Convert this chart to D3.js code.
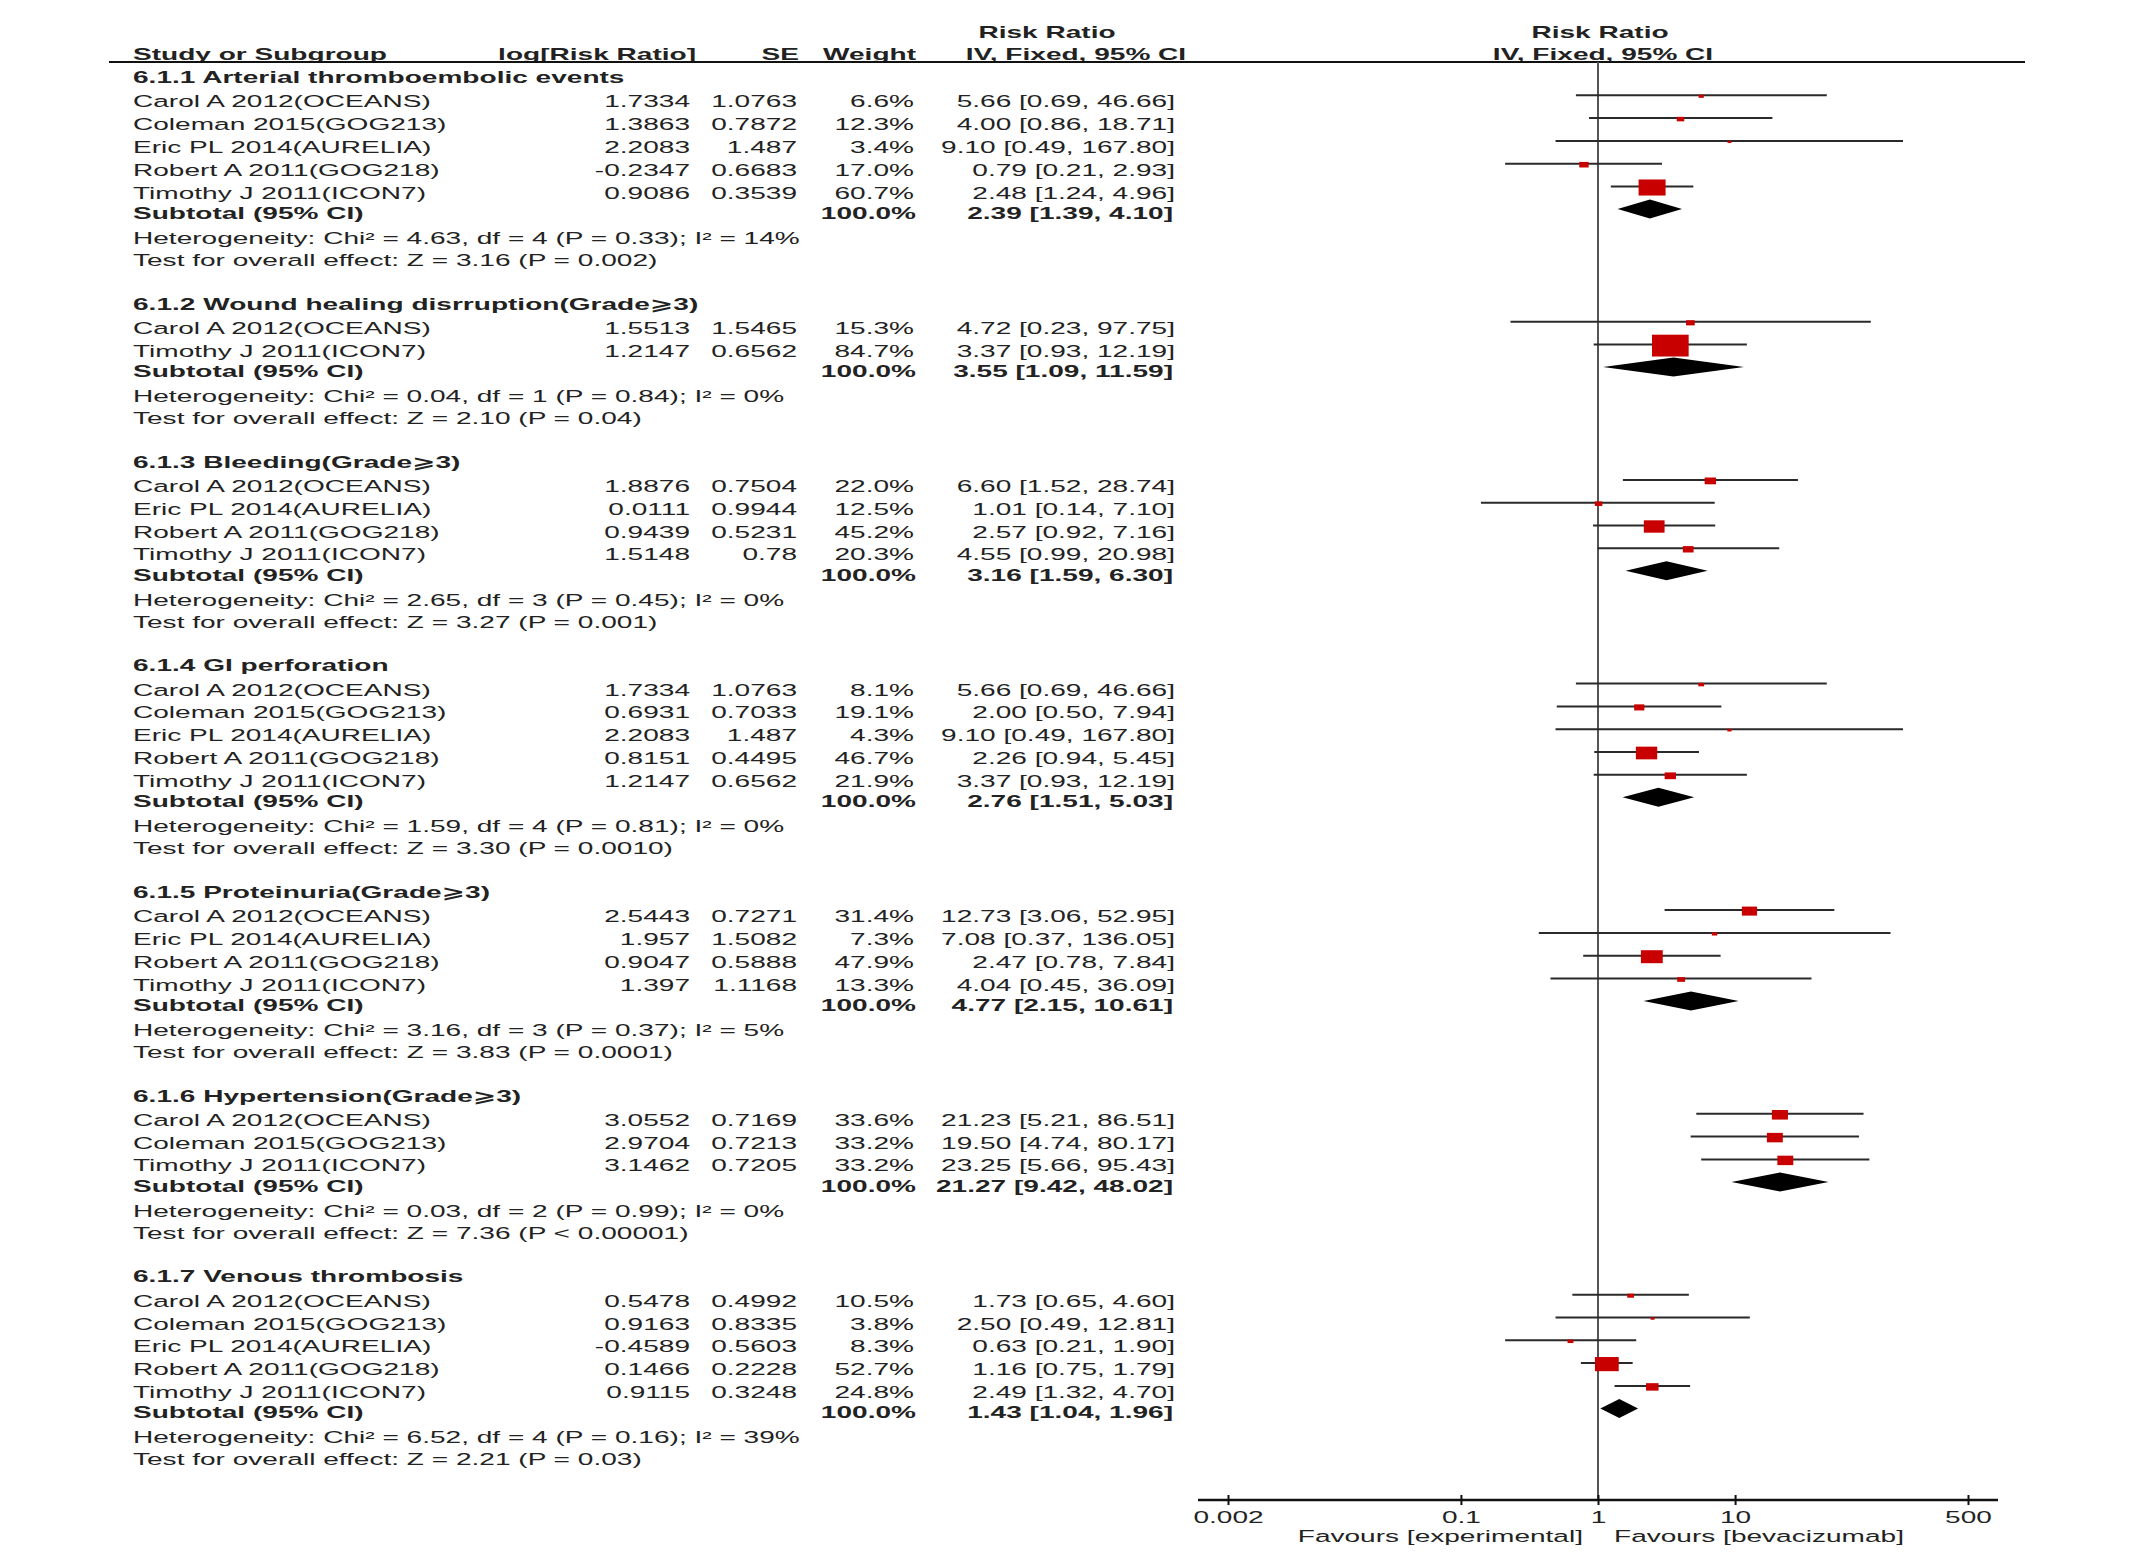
<!DOCTYPE html>
<html>
<head>
<meta charset="utf-8">
<script src="https://cdn.jsdelivr.net/npm/d3@7"></script>
<style>
body { margin: 0; background: #fff; }
text { font-family: "Liberation Sans", Arial, "DejaVu Sans", sans-serif; fill: #222; }
</style>
</head>
<body>
<div id="forest"></div>
<script>
var width = 2133;
var height = 1562;

// subgroup titles
var groupTitles = [
    "6.1.1 Arterial thromboembolic events",
    "6.1.2 Wound healing disrruption(Grade\u2a7e3)",
    "6.1.3 Bleeding(Grade\u2a7e3)",
    "6.1.4 GI perforation",
    "6.1.5 Proteinuria(Grade\u2a7e3)",
    "6.1.6 Hypertension(Grade\u2a7e3)",
    "6.1.7 Venous thrombosis"
];

var studyNames = [
    ["Carol A 2012(OCEANS)", "Coleman 2015(GOG213)", "Eric PL 2014(AURELIA)", "Robert A 2011(GOG218)", "Timothy J 2011(ICON7)"],
    ["Carol A 2012(OCEANS)", "Timothy J 2011(ICON7)"],
    ["Carol A 2012(OCEANS)", "Eric PL 2014(AURELIA)", "Robert A 2011(GOG218)", "Timothy J 2011(ICON7)"],
    ["Carol A 2012(OCEANS)", "Coleman 2015(GOG213)", "Eric PL 2014(AURELIA)", "Robert A 2011(GOG218)", "Timothy J 2011(ICON7)"],
    ["Carol A 2012(OCEANS)", "Eric PL 2014(AURELIA)", "Robert A 2011(GOG218)", "Timothy J 2011(ICON7)"],
    ["Carol A 2012(OCEANS)", "Coleman 2015(GOG213)", "Timothy J 2011(ICON7)"],
    ["Carol A 2012(OCEANS)", "Coleman 2015(GOG213)", "Eric PL 2014(AURELIA)", "Robert A 2011(GOG218)", "Timothy J 2011(ICON7)"]
];

var logRR = [
    [1.7334, 1.3863, 2.2083, -0.2347, 0.9086],
    [1.5513, 1.2147],
    [1.8876, 0.0111, 0.9439, 1.5148],
    [1.7334, 0.6931, 2.2083, 0.8151, 1.2147],
    [2.5443, 1.957, 0.9047, 1.397],
    [3.0552, 2.9704, 3.1462],
    [0.5478, 0.9163, -0.4589, 0.1466, 0.9115]
];

var seVals = [
    [1.0763, 0.7872, 1.487, 0.6683, 0.3539],
    [1.5465, 0.6562],
    [0.7504, 0.9944, 0.5231, 0.78],
    [1.0763, 0.7033, 1.487, 0.4495, 0.6562],
    [0.7271, 1.5082, 0.5888, 1.1168],
    [0.7169, 0.7213, 0.7205],
    [0.4992, 0.8335, 0.5603, 0.2228, 0.3248]
];

var weights = [
    [6.6, 12.3, 3.4, 17.0, 60.7],
    [15.3, 84.7],
    [22.0, 12.5, 45.2, 20.3],
    [8.1, 19.1, 4.3, 46.7, 21.9],
    [31.4, 7.3, 47.9, 13.3],
    [33.6, 33.2, 33.2],
    [10.5, 3.8, 8.3, 52.7, 24.8]
];

var rrVals = [
    [5.66, 4.00, 9.10, 0.79, 2.48],
    [4.72, 3.37],
    [6.60, 1.01, 2.57, 4.55],
    [5.66, 2.00, 9.10, 2.26, 3.37],
    [12.73, 7.08, 2.47, 4.04],
    [21.23, 19.50, 23.25],
    [1.73, 2.50, 0.63, 1.16, 2.49]
];

var ciLow = [
    [0.69, 0.86, 0.49, 0.21, 1.24],
    [0.23, 0.93],
    [1.52, 0.14, 0.92, 0.99],
    [0.69, 0.50, 0.49, 0.94, 0.93],
    [3.06, 0.37, 0.78, 0.45],
    [5.21, 4.74, 5.66],
    [0.65, 0.49, 0.21, 0.75, 1.32]
];

var ciHigh = [
    [46.66, 18.71, 167.80, 2.93, 4.96],
    [97.75, 12.19],
    [28.74, 7.10, 7.16, 20.98],
    [46.66, 7.94, 167.80, 5.45, 12.19],
    [52.95, 136.05, 7.84, 36.09],
    [86.51, 80.17, 95.43],
    [4.60, 12.81, 1.90, 1.79, 4.70]
];

var subRR = [2.39, 3.55, 3.16, 2.76, 4.77, 21.27, 1.43];
var subLow = [1.39, 1.09, 1.59, 1.51, 2.15, 9.42, 1.04];
var subHigh = [4.10, 11.59, 6.30, 5.03, 10.61, 48.02, 1.96];

var hetText = [
    "Heterogeneity: Chi\u00b2 = 4.63, df = 4 (P = 0.33); I\u00b2 = 14%",
    "Heterogeneity: Chi\u00b2 = 0.04, df = 1 (P = 0.84); I\u00b2 = 0%",
    "Heterogeneity: Chi\u00b2 = 2.65, df = 3 (P = 0.45); I\u00b2 = 0%",
    "Heterogeneity: Chi\u00b2 = 1.59, df = 4 (P = 0.81); I\u00b2 = 0%",
    "Heterogeneity: Chi\u00b2 = 3.16, df = 3 (P = 0.37); I\u00b2 = 5%",
    "Heterogeneity: Chi\u00b2 = 0.03, df = 2 (P = 0.99); I\u00b2 = 0%",
    "Heterogeneity: Chi\u00b2 = 6.52, df = 4 (P = 0.16); I\u00b2 = 39%"
];

var effectText = [
    "Test for overall effect: Z = 3.16 (P = 0.002)",
    "Test for overall effect: Z = 2.10 (P = 0.04)",
    "Test for overall effect: Z = 3.27 (P = 0.001)",
    "Test for overall effect: Z = 3.30 (P = 0.0010)",
    "Test for overall effect: Z = 3.83 (P = 0.0001)",
    "Test for overall effect: Z = 7.36 (P < 0.00001)",
    "Test for overall effect: Z = 2.21 (P = 0.03)"
];

var tickVals = [0.002, 0.1, 1, 10, 500];

// the picture is stretched sideways, so every text and box is too
var sx = 1.68;
var fs = 16.7;

var svg = d3.select("#forest").append("svg").attr("width", width).attr("height", height);

var x = d3.scaleLog().domain([0.002, 500]).range([1228, 1968]);
var box = d3.scaleLinear().domain([0, 100]).range([1.5, 25.5]);

function label(str, px, py, anchor, bold) {
    return svg.append("text")
        .attr("transform", `translate(${px},${py}) scale(${sx},1)`)
        .attr("text-anchor", anchor)
        .style("font-size", fs + "px")
        .style("font-weight", bold ? "bold" : "normal")
        .text(str);
}

function ciStr(r, l, h) {
    return r.toFixed(2) + " [" + l.toFixed(2) + ", " + h.toFixed(2) + "]";
}

// column headers
label("Risk Ratio", 1047, 38, "middle", true);
label("Risk Ratio", 1600, 38, "middle", true);
label("Study or Subgroup", 133, 60, "start", true);
label("log[Risk Ratio]", 696, 60, "end", true);
label("SE", 799, 60, "end", true);
label("Weight", 916, 60, "end", true);
label("IV, Fixed, 95% CI", 1076, 60, "middle", true);
label("IV, Fixed, 95% CI", 1603, 60, "middle", true);

svg.append("line")
    .attr("x1", 109).attr("x2", 2025)
    .attr("y1", 62).attr("y2", 62)
    .attr("stroke", "#111").attr("stroke-width", 2);

var axisY = 1500;

// line of no effect
svg.append("line")
    .attr("x1", x(1)).attr("x2", x(1))
    .attr("y1", 62).attr("y2", axisY)
    .attr("stroke", "#555").attr("stroke-width", 2);

var y = 83;
groupTitles.forEach(function(title, gi) {
    label(title, 133, y, "start", true);
    var first = y + 24.3;
    var n = studyNames[gi].length;

    studyNames[gi].forEach(function(name, i) {
        var by = first + i * 22.8;
        label(name, 133, by, "start", false);
        label(String(logRR[gi][i]), 690, by, "end", false);
        label(String(seVals[gi][i]), 797, by, "end", false);
        label(weights[gi][i].toFixed(1) + "%", 914, by, "end", false);
        label(ciStr(rrVals[gi][i], ciLow[gi][i], ciHigh[gi][i]), 1175, by, "end", false);

        svg.append("line")
            .attr("x1", x(ciLow[gi][i])).attr("x2", x(ciHigh[gi][i]))
            .attr("y1", by - 12).attr("y2", by - 12)
            .attr("stroke", "#2a2a2a").attr("stroke-width", 2);

        var s = box(weights[gi][i]);
        svg.append("rect")
            .attr("x", x(rrVals[gi][i]) - s * sx / 2)
            .attr("y", by - 11 - s / 2)
            .attr("width", s * sx)
            .attr("height", s)
            .attr("fill", "#c80000");
    });

    var subY = first + (n - 1) * 22.8 + 20.5;
    label("Subtotal (95% CI)", 133, subY, "start", true);
    label("100.0%", 916, subY, "end", true);
    label(ciStr(subRR[gi], subLow[gi], subHigh[gi]), 1173, subY, "end", true);

    var cy = subY - 10;
    var pts = [[x(subLow[gi]), cy], [x(subRR[gi]), cy - 9.5], [x(subHigh[gi]), cy], [x(subRR[gi]), cy + 9.5]];
    svg.append("path")
        .attr("d", d3.line()(pts) + "Z")
        .attr("fill", "#000");

    var hetY = subY + 25;
    label(hetText[gi], 133, hetY, "start", false);
    var testY = hetY + 22;
    label(effectText[gi], 133, testY, "start", false);

    y = testY + 43.5;
});

// axis
var axis = d3.axisBottom(x)
    .tickValues(tickVals)
    .tickFormat(function(d) { return String(d); })
    .tickSize(5)
    .tickSizeOuter(0)
    .tickPadding(6);

var ax = svg.append("g").attr("transform", `translate(0,${axisY})`).call(axis);
ax.select(".domain").remove();
ax.append("line")
    .attr("x1", x.range()[0] - 30).attr("x2", x.range()[1] + 30)
    .attr("y1", 0).attr("y2", 0)
    .attr("stroke", "#111").attr("stroke-width", 2.5);
ax.selectAll(".tick line")
    .attr("y1", -5).attr("y2", 5)
    .attr("stroke", "#111").attr("stroke-width", 2);
ax.selectAll(".tick text")
    .attr("transform", `scale(${sx},1)`)
    .style("font-size", fs + "px")
    .style("font-family", "'Liberation Sans', Arial, sans-serif")
    .attr("fill", "#222");

label("Favours [experimental]", x(1) - 15, 1542, "end", false);
label("Favours [bevacizumab]", x(1) + 16, 1542, "start", false);
</script>
</body>
</html>
